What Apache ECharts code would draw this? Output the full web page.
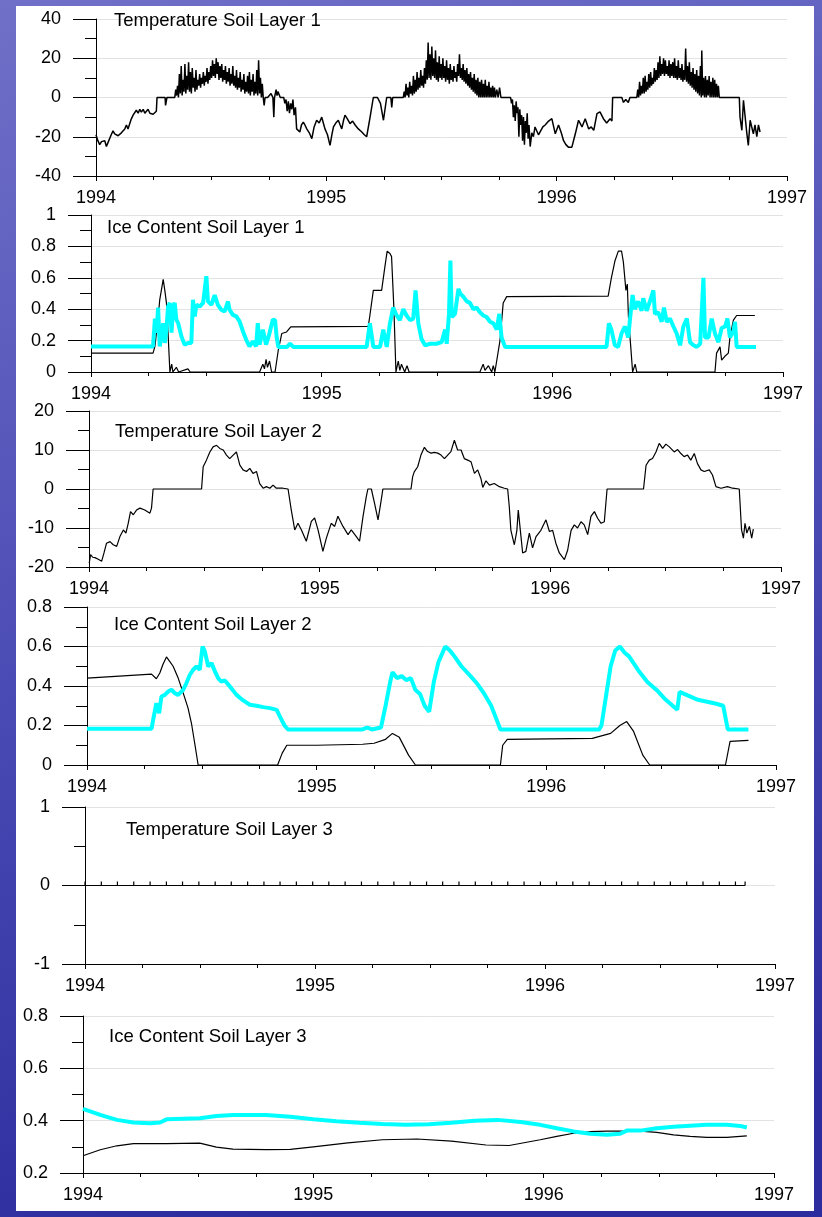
<!DOCTYPE html>
<html><head><meta charset="utf-8">
<script src="https://cdn.jsdelivr.net/npm/echarts@6/dist/echarts.min.js"></script>
<style>html,body{margin:0;padding:0;width:822px;height:1217px;overflow:hidden;background:#4a4ab4}#c{width:822px;height:1217px}</style>
</head><body><div id="c"></div>
<script>
// ---------- DATA ----------
const panelTitles = ['Temperature Soil Layer 1','Ice Content Soil Layer 1','Temperature Soil Layer 2','Ice Content Soil Layer 2','Temperature Soil Layer 3','Ice Content Soil Layer 3'];
const yearTicks = [1994, 1995, 1996, 1997];

const tempL1 = [
[1994.000,-19],[1994.008,-22],[1994.016,-24],[1994.024,-22.5],[1994.030,-23.5],[1994.038,-22],[1994.045,-25],[1994.052,-23],[1994.059,-22],[1994.066,-19],[1994.074,-17],[1994.081,-18.5],[1994.088,-18],[1994.096,-19.5],[1994.103,-20],[1994.110,-18],[1994.117,-18],[1994.125,-16],[1994.132,-14],[1994.139,-16],[1994.146,-15],[1994.153,-11],[1994.161,-9],[1994.168,-8],[1994.175,-6.5],[1994.183,-8],[1994.190,-6],[1994.197,-7.5],[1994.205,-6],[1994.212,-8],[1994.219,-7],[1994.226,-6],[1994.234,-8],[1994.241,-7],[1994.248,-8.5],[1994.255,-9.5],[1994.262,-7],[1994.265,0],[1994.300,0],[1994.302,-4],[1994.306,-4],[1994.308,0],
[1994.342,0],[1994.346,4],[1994.350,1],[1994.354,6],[1994.358,0],[1994.362,12],[1994.366,2],[1994.370,16],[1994.374,1],[1994.378,9],[1994.382,3],[1994.386,17],[1994.390,2],[1994.394,11],[1994.398,4],[1994.402,18],[1994.406,3],[1994.410,13],[1994.414,2],[1994.418,15],[1994.422,5],[1994.426,10],[1994.430,3],[1994.434,14],[1994.438,4],[1994.442,9],[1994.446,6],[1994.450,12],[1994.454,5],[1994.458,10],[1994.462,7],[1994.466,13],[1994.470,6],[1994.474,11],[1994.478,8],[1994.482,15],[1994.486,7],[1994.490,13],[1994.494,9],[1994.498,16],[1994.502,10],[1994.506,19],[1994.510,11],[1994.514,17],[1994.518,10],[1994.522,20],[1994.526,12],[1994.530,18],[1994.534,9],[1994.538,16],[1994.542,10],[1994.546,17],[1994.550,8],[1994.554,14],[1994.558,9],[1994.562,16],[1994.566,7],[1994.570,13],[1994.574,8],[1994.578,15],[1994.582,6],[1994.586,12],[1994.590,7],[1994.594,16],[1994.598,6],[1994.602,11],[1994.606,5],[1994.610,14],[1994.614,4],[1994.618,10],[1994.622,5],[1994.626,13],[1994.630,3],[1994.634,9],[1994.638,4],[1994.642,12],[1994.646,2],[1994.650,8],[1994.654,3],[1994.658,11],[1994.662,2],[1994.666,13],[1994.670,1],[1994.674,9],[1994.678,3],[1994.682,12],[1994.686,1],[1994.690,8],[1994.694,2],[1994.698,14],[1994.702,1],[1994.706,19],[1994.710,2],[1994.714,10],[1994.718,0],[1994.722,7],[1994.726,0],[1994.730,-4],[1994.734,0],
[1994.745,0],[1994.760,2],[1994.768,0],[1994.772,-10],[1994.775,0],[1994.782,4],[1994.786,1],[1994.790,3],[1994.800,0],[1994.815,0],[1994.820,-3],[1994.825,-1],[1994.830,-7],[1994.835,-2],[1994.840,-8],[1994.845,-3],[1994.850,-6],[1994.855,-1],[1994.860,-9],[1994.866,-5],[1994.871,-16],[1994.878,-15],[1994.885,-17.6],[1994.892,-14],[1994.900,-12.5],[1994.907,-14],[1994.915,-16],[1994.926,-18],[1994.937,-21],[1994.947,-15],[1994.958,-11.6],[1994.969,-13],[1994.980,-10],[1994.987,-13],[1994.994,-16],[1995.005,-19],[1995.016,-24.4],[1995.024,-19],[1995.031,-15],[1995.041,-13],[1995.052,-11.6],[1995.060,-14],[1995.067,-16],[1995.074,-12],[1995.081,-9],[1995.092,-11],[1995.103,-13.3],[1995.114,-12],[1995.125,-14],[1995.132,-15],[1995.139,-16],[1995.147,-16.5],[1995.154,-17.6],[1995.165,-19],[1995.175,-20],[1995.190,-10],[1995.204,0],[1995.222,0],[1995.235,-3],[1995.248,-11.6],[1995.262,0],[1995.280,0],[1995.284,-5],[1995.288,0],
[1995.334,0],[1995.338,3],[1995.342,0],[1995.346,7],[1995.350,1],[1995.354,5],[1995.358,0],[1995.362,8],[1995.366,2],[1995.370,6],[1995.374,1],[1995.378,11],[1995.382,2],[1995.386,9],[1995.390,3],[1995.394,13],[1995.398,4],[1995.402,10],[1995.406,5],[1995.410,14],[1995.414,6],[1995.418,11],[1995.422,5],[1995.426,15],[1995.430,7],[1995.434,19],[1995.438,9],[1995.442,28],[1995.446,10],[1995.450,22],[1995.454,9],[1995.458,26],[1995.462,11],[1995.466,20],[1995.470,10],[1995.474,24],[1995.478,9],[1995.482,18],[1995.486,8],[1995.490,21],[1995.494,10],[1995.498,17],[1995.502,9],[1995.506,20],[1995.510,10],[1995.514,16],[1995.518,8],[1995.522,19],[1995.526,9],[1995.530,15],[1995.534,7],[1995.538,17],[1995.542,9],[1995.546,14],[1995.550,8],[1995.554,16],[1995.558,10],[1995.562,13],[1995.566,8],[1995.570,17],[1995.574,11],[1995.578,22],[1995.582,10],[1995.586,15],[1995.590,9],[1995.594,17],[1995.598,8],[1995.602,14],[1995.606,7],[1995.610,15],[1995.614,6],[1995.618,12],[1995.622,5],[1995.626,13],[1995.630,4],[1995.634,10],[1995.638,3],[1995.642,12],[1995.646,2],[1995.650,9],[1995.654,1],[1995.658,10],[1995.662,0],[1995.666,8],[1995.670,0],[1995.674,9],[1995.678,0],[1995.682,7],[1995.686,0],[1995.690,9],[1995.694,0],[1995.698,6],[1995.702,0],[1995.706,8],[1995.710,0],[1995.714,5],[1995.718,0],[1995.722,6],[1995.726,0],[1995.730,5],[1995.734,0],[1995.740,4],[1995.746,0],[1995.752,5],[1995.758,0],[1995.768,0],
[1995.800,0],[1995.804,-3],[1995.808,-1],[1995.812,-10],[1995.816,-4],[1995.820,-12],[1995.824,-2],[1995.828,-8],[1995.832,-5],[1995.836,-20],[1995.840,-6],[1995.844,-14],[1995.848,-9],[1995.852,-22],[1995.856,-10],[1995.860,-24],[1995.864,-12],[1995.868,-18],[1995.872,-8],[1995.876,-21],[1995.880,-14],[1995.885,-25],[1995.892,-18],[1995.899,-20],[1995.906,-15],[1995.914,-15],[1995.921,-19],[1995.928,-19],[1995.940,-15],[1995.950,-14],[1995.965,-12],[1995.979,-10.8],[1995.994,-18.5],[1996.008,-14],[1996.020,-18],[1996.030,-22],[1996.040,-24],[1996.051,-25.3],[1996.066,-25.3],[1996.081,-18.5],[1996.095,-11.6],[1996.110,-15],[1996.124,-10.8],[1996.139,-16],[1996.150,-15],[1996.161,-16.7],[1996.175,-8.2],[1996.188,-7.3],[1996.203,-10.8],[1996.217,-13],[1996.232,-10.8],[1996.240,-12],[1996.243,0],[1996.283,0],[1996.290,-2.5],[1996.300,-1],[1996.311,-2.5],[1996.318,0],
[1996.348,0],[1996.352,4],[1996.356,0],[1996.360,8],[1996.364,1],[1996.368,6],[1996.372,2],[1996.376,10],[1996.380,2],[1996.384,11],[1996.388,3],[1996.392,8],[1996.396,4],[1996.400,12],[1996.404,5],[1996.408,13],[1996.412,6],[1996.416,10],[1996.420,7],[1996.424,15],[1996.428,8],[1996.432,14],[1996.436,9],[1996.440,18],[1996.444,10],[1996.448,21],[1996.452,11],[1996.456,17],[1996.460,12],[1996.464,20],[1996.468,11],[1996.472,19],[1996.476,12],[1996.480,16],[1996.484,11],[1996.488,19],[1996.492,10],[1996.496,17],[1996.500,11],[1996.504,18],[1996.508,10],[1996.512,20],[1996.516,10],[1996.520,16],[1996.524,9],[1996.528,19],[1996.532,10],[1996.536,15],[1996.540,9],[1996.544,17],[1996.548,8],[1996.552,14],[1996.556,9],[1996.560,25],[1996.564,8],[1996.568,16],[1996.572,7],[1996.576,18],[1996.580,6],[1996.584,13],[1996.588,5],[1996.592,15],[1996.596,4],[1996.600,12],[1996.604,3],[1996.608,14],[1996.612,2],[1996.616,11],[1996.620,1],[1996.624,16],[1996.628,0],[1996.630,24],[1996.634,1],[1996.638,10],[1996.642,0],[1996.646,11],[1996.650,0],[1996.654,9],[1996.658,1],[1996.662,11],[1996.666,0],[1996.670,8],[1996.674,0],[1996.678,10],[1996.682,0],[1996.686,9],[1996.690,0],[1996.694,7],[1996.698,0],[1996.702,6],[1996.706,0],[1996.710,0],
[1996.793,0],[1996.796,-10],[1996.804,-16.7],[1996.811,-1.4],[1996.818,-1],[1996.825,-17.6],[1996.832,-24.4],[1996.840,-11.6],[1996.847,-12.5],[1996.854,-18.5],[1996.861,-14],[1996.869,-20],[1996.876,-14],[1996.883,-17.6]
];

const iceL1Black = [
[1994.000,0.12],[1994.269,0.12],[1994.277,0.163],[1994.290,0.33],[1994.298,0.46],[1994.313,0.59],[1994.320,0.52],[1994.327,0.44],[1994.334,0.25],[1994.342,0],[1994.350,0.05],[1994.355,0],[1994.370,0.03],[1994.380,0],[1994.420,0.02],[1994.430,0],[1994.731,0],[1994.745,0.05],[1994.752,0.02],[1994.759,0.08],[1994.765,0.03],[1994.774,0.07],[1994.783,0],[1994.798,0],[1994.812,0.14],[1994.827,0.245],[1994.848,0.255],[1994.866,0.287],[1995.202,0.29],[1995.209,0.36],[1995.224,0.52],[1995.260,0.52],[1995.274,0.67],[1995.284,0.77],[1995.296,0.755],[1995.303,0.735],[1995.313,0.41],[1995.322,0],[1995.332,0.07],[1995.339,0.01],[1995.346,0.05],[1995.360,0],[1995.370,0.04],[1995.379,0],[1995.686,0],[1995.700,0.05],[1995.708,0.01],[1995.723,0.04],[1995.737,0],[1995.744,0.04],[1995.751,0],[1995.773,0.2],[1995.787,0.44],[1995.802,0.48],[1996.242,0.483],[1996.256,0.6],[1996.271,0.705],[1996.286,0.77],[1996.300,0.77],[1996.308,0.7],[1996.319,0.52],[1996.325,0.56],[1996.330,0.35],[1996.340,0.16],[1996.348,0],[1996.359,0.05],[1996.366,0],[1996.705,0],[1996.712,0.12],[1996.727,0.16],[1996.734,0.075],[1996.748,0.1],[1996.763,0.12],[1996.770,0.22],[1996.785,0.33],[1996.799,0.36],[1996.878,0.36]
];
const iceL1Cyan = [
[1994.000,0.163],[1994.269,0.163],[1994.277,0.34],[1994.284,0.25],[1994.291,0.41],[1994.298,0.163],[1994.305,0.227],[1994.313,0.311],[1994.320,0.185],[1994.327,0.27],[1994.334,0.417],[1994.342,0.44],[1994.349,0.25],[1994.356,0.417],[1994.363,0.44],[1994.370,0.333],[1994.378,0.311],[1994.392,0.227],[1994.406,0.174],[1994.421,0.185],[1994.435,0.185],[1994.442,0.46],[1994.450,0.354],[1994.457,0.428],[1994.471,0.417],[1994.486,0.44],[1994.500,0.61],[1994.507,0.45],[1994.522,0.428],[1994.536,0.49],[1994.550,0.428],[1994.565,0.396],[1994.579,0.385],[1994.594,0.449],[1994.601,0.396],[1994.615,0.364],[1994.630,0.354],[1994.644,0.322],[1994.659,0.258],[1994.673,0.205],[1994.687,0.163],[1994.702,0.195],[1994.716,0.163],[1994.723,0.311],[1994.731,0.174],[1994.745,0.269],[1994.759,0.174],[1994.774,0.248],[1994.788,0.333],[1994.798,0.33],[1994.805,0.22],[1994.812,0.16],[1994.850,0.16],[1994.863,0.18],[1994.877,0.16],[1995.195,0.16],[1995.209,0.31],[1995.224,0.16],[1995.253,0.16],[1995.267,0.27],[1995.282,0.16],[1995.296,0.31],[1995.310,0.41],[1995.325,0.36],[1995.339,0.33],[1995.354,0.40],[1995.368,0.36],[1995.383,0.33],[1995.397,0.34],[1995.407,0.52],[1995.419,0.31],[1995.433,0.21],[1995.448,0.17],[1995.470,0.18],[1995.498,0.18],[1995.520,0.19],[1995.535,0.27],[1995.542,0.18],[1995.552,0.37],[1995.558,0.71],[1995.564,0.35],[1995.578,0.37],[1995.593,0.53],[1995.600,0.50],[1995.614,0.48],[1995.629,0.45],[1995.643,0.44],[1995.658,0.40],[1995.672,0.41],[1995.686,0.38],[1995.701,0.36],[1995.715,0.35],[1995.730,0.32],[1995.744,0.31],[1995.759,0.27],[1995.770,0.37],[1995.780,0.22],[1995.795,0.16],[1996.235,0.16],[1996.245,0.31],[1996.256,0.27],[1996.271,0.17],[1996.285,0.16],[1996.300,0.245],[1996.314,0.29],[1996.329,0.22],[1996.339,0.37],[1996.348,0.49],[1996.358,0.40],[1996.372,0.45],[1996.387,0.39],[1996.394,0.47],[1996.409,0.39],[1996.423,0.45],[1996.438,0.52],[1996.445,0.37],[1996.459,0.38],[1996.474,0.32],[1996.484,0.41],[1996.496,0.32],[1996.510,0.34],[1996.525,0.29],[1996.539,0.245],[1996.554,0.17],[1996.568,0.29],[1996.583,0.34],[1996.597,0.19],[1996.612,0.17],[1996.626,0.16],[1996.641,0.18],[1996.655,0.60],[1996.662,0.22],[1996.677,0.22],[1996.691,0.34],[1996.705,0.245],[1996.720,0.19],[1996.734,0.28],[1996.749,0.29],[1996.759,0.34],[1996.770,0.22],[1996.785,0.26],[1996.792,0.32],[1996.799,0.16],[1996.883,0.16]
];

const tempL2 = [
[1994.001,-19],[1994.007,-16.8],[1994.016,-17.5],[1994.026,-17.6],[1994.040,-18],[1994.055,-18.5],[1994.065,-16.4],[1994.076,-13.9],[1994.091,-13.5],[1994.105,-14.3],[1994.120,-14.7],[1994.134,-12.2],[1994.149,-10.5],[1994.160,-11.3],[1994.170,-8.8],[1994.180,-5.8],[1994.192,-6.6],[1994.206,-5.4],[1994.221,-4.9],[1994.242,-5.4],[1994.264,-6.2],[1994.271,-4.9],[1994.278,0],[1994.488,0],[1994.495,5.7],[1994.509,7.4],[1994.524,9.5],[1994.538,10.8],[1994.553,11.2],[1994.567,10.4],[1994.582,10],[1994.596,8.7],[1994.610,7.8],[1994.625,8.7],[1994.639,9.5],[1994.654,6.1],[1994.668,4.9],[1994.683,4.5],[1994.697,5.3],[1994.711,4],[1994.726,4.5],[1994.740,1.4],[1994.755,0.2],[1994.769,0.6],[1994.784,0.2],[1994.798,1],[1994.812,0.2],[1994.841,0.2],[1994.863,0],[1994.877,-5.4],[1994.892,-10.5],[1994.906,-8.8],[1994.921,-10.5],[1994.942,-13.4],[1994.964,-8.3],[1994.978,-7.4],[1994.993,-10.5],[1995.014,-16],[1995.029,-12.6],[1995.050,-8.8],[1995.065,-9.6],[1995.079,-7],[1995.101,-9.6],[1995.123,-11.7],[1995.137,-10.5],[1995.159,-12.2],[1995.173,-13.4],[1995.188,-7],[1995.202,-2],[1995.209,0],[1995.224,0],[1995.238,-3.7],[1995.253,-7.9],[1995.267,-2.8],[1995.274,0],[1995.396,0],[1995.403,3.1],[1995.410,4.4],[1995.425,5.7],[1995.439,8.7],[1995.454,10.7],[1995.468,9.6],[1995.483,9.2],[1995.497,9.4],[1995.512,9.2],[1995.526,8.7],[1995.541,7.8],[1995.555,8.7],[1995.569,9.6],[1995.584,12.5],[1995.598,10],[1995.613,10],[1995.627,7.8],[1995.642,7.4],[1995.656,7],[1995.671,4],[1995.685,4.9],[1995.699,2.7],[1995.707,0.4],[1995.721,2.1],[1995.736,1],[1995.757,1.4],[1995.779,0.6],[1995.801,0.2],[1995.815,0],[1995.822,-4.5],[1995.829,-10.6],[1995.837,-11],[1995.844,-14.3],[1995.855,-10.6],[1995.861,-5.4],[1995.870,-10.6],[1995.880,-16.4],[1995.894,-16],[1995.909,-11.3],[1995.923,-15.1],[1995.938,-12.2],[1995.959,-10.6],[1995.981,-7.9],[1995.996,-10.9],[1996.010,-10.6],[1996.024,-13.9],[1996.039,-16.4],[1996.061,-18.1],[1996.075,-15.7],[1996.090,-10.6],[1996.104,-9.2],[1996.118,-10],[1996.133,-8.4],[1996.147,-9.2],[1996.162,-11.7],[1996.176,-7],[1996.191,-5.8],[1996.205,-7.5],[1996.220,-8.8],[1996.234,-8.4],[1996.246,0],[1996.404,0],[1996.415,6.1],[1996.429,7.4],[1996.443,7.8],[1996.458,9.5],[1996.472,11.7],[1996.487,10.4],[1996.501,11.5],[1996.516,10.8],[1996.537,9.5],[1996.552,10.1],[1996.566,9.1],[1996.580,8.3],[1996.595,8.7],[1996.609,7.4],[1996.624,9.1],[1996.638,6.5],[1996.653,4.9],[1996.667,4.5],[1996.689,4.9],[1996.703,3.6],[1996.718,0.6],[1996.740,0.2],[1996.768,0.6],[1996.790,0.2],[1996.819,0],[1996.829,-10.5],[1996.837,-12.6],[1996.844,-8.8],[1996.852,-11.3],[1996.863,-9.6],[1996.873,-12.6],[1996.880,-10.3]
];

const iceL2Black = [
[1994.000,0.44],[1994.281,0.46],[1994.302,0.437],[1994.317,0.466],[1994.331,0.51],[1994.346,0.547],[1994.360,0.525],[1994.375,0.5],[1994.397,0.44],[1994.419,0.364],[1994.440,0.288],[1994.455,0.21],[1994.469,0.11],[1994.484,0],[1994.830,0],[1994.850,0.06],[1994.870,0.1],[1995.000,0.1],[1995.200,0.105],[1995.250,0.11],[1995.300,0.13],[1995.330,0.16],[1995.360,0.14],[1995.400,0.05],[1995.430,0],[1995.800,0],[1995.810,0.1],[1995.830,0.13],[1996.200,0.135],[1996.280,0.16],[1996.320,0.2],[1996.350,0.22],[1996.380,0.17],[1996.420,0.05],[1996.450,0],[1996.780,0],[1996.800,0.12],[1996.880,0.125]
];
const iceL2Cyan = [
[1994.000,0.183],[1994.281,0.183],[1994.288,0.228],[1994.302,0.313],[1994.314,0.262],[1994.324,0.347],[1994.339,0.355],[1994.353,0.372],[1994.368,0.381],[1994.382,0.364],[1994.397,0.355],[1994.419,0.381],[1994.433,0.415],[1994.448,0.457],[1994.462,0.482],[1994.477,0.499],[1994.491,0.482],[1994.503,0.6],[1994.513,0.575],[1994.528,0.499],[1994.542,0.516],[1994.557,0.474],[1994.571,0.44],[1994.584,0.423],[1994.600,0.428],[1994.622,0.398],[1994.651,0.355],[1994.680,0.327],[1994.709,0.305],[1994.738,0.3],[1994.767,0.293],[1994.797,0.288],[1994.826,0.279],[1994.840,0.245],[1994.860,0.2],[1994.875,0.18],[1995.200,0.18],[1995.220,0.19],[1995.240,0.18],[1995.280,0.19],[1995.300,0.3],[1995.320,0.42],[1995.330,0.47],[1995.350,0.44],[1995.370,0.45],[1995.390,0.43],[1995.410,0.44],[1995.430,0.38],[1995.450,0.36],[1995.470,0.3],[1995.490,0.27],[1995.510,0.42],[1995.530,0.52],[1995.560,0.6],[1995.580,0.58],[1995.600,0.55],[1995.630,0.5],[1995.670,0.45],[1995.700,0.41],[1995.730,0.36],[1995.760,0.3],[1995.780,0.24],[1995.800,0.18],[1996.230,0.18],[1996.240,0.2],[1996.260,0.35],[1996.280,0.5],[1996.300,0.58],[1996.320,0.6],[1996.340,0.57],[1996.360,0.55],[1996.400,0.48],[1996.440,0.42],[1996.480,0.38],[1996.520,0.33],[1996.550,0.3],[1996.570,0.28],[1996.580,0.37],[1996.620,0.35],[1996.660,0.33],[1996.700,0.32],[1996.740,0.31],[1996.770,0.3],[1996.790,0.18],[1996.880,0.18]
];

const tempL3Times = [1994.000,1994.071,1994.141,1994.212,1994.283,1994.354,1994.424,1994.495,1994.566,1994.636,1994.707,1994.778,1994.848,1994.919,1994.990,1995.060,1995.131,1995.202,1995.273,1995.343,1995.414,1995.485,1995.555,1995.626,1995.697,1995.768,1995.838,1995.909,1995.980,1996.050,1996.121,1996.192,1996.263,1996.333,1996.404,1996.475,1996.545,1996.616,1996.687,1996.758,1996.828,1996.870];
const tempL3Values = [0,0,0,0,0,0,0,0,0,0,0,0,0,0,0,0,0,0,0,0,0,0,0,0,0,0,0,0,0,0,0,0,0,0,0,0,0,0,0,0,0,0];

const iceL3Black = [
[1994.000,0.266],[1994.075,0.289],[1994.147,0.304],[1994.219,0.312],[1994.363,0.312],[1994.507,0.314],[1994.579,0.299],[1994.651,0.291],[1994.795,0.289],[1994.900,0.29],[1995.000,0.30],[1995.150,0.315],[1995.300,0.327],[1995.450,0.33],[1995.600,0.322],[1995.750,0.307],[1995.850,0.305],[1995.985,0.327],[1996.057,0.34],[1996.130,0.352],[1996.202,0.358],[1996.274,0.36],[1996.332,0.36],[1996.419,0.36],[1996.491,0.355],[1996.564,0.346],[1996.636,0.34],[1996.708,0.336],[1996.795,0.336],[1996.853,0.34],[1996.882,0.342]
];
const iceL3Cyan = [
[1994.000,0.445],[1994.075,0.422],[1994.147,0.403],[1994.219,0.393],[1994.291,0.39],[1994.334,0.393],[1994.363,0.405],[1994.435,0.407],[1994.507,0.409],[1994.579,0.418],[1994.651,0.422],[1994.723,0.422],[1994.795,0.422],[1994.900,0.415],[1995.000,0.405],[1995.100,0.398],[1995.200,0.392],[1995.300,0.387],[1995.400,0.384],[1995.500,0.386],[1995.600,0.392],[1995.700,0.400],[1995.800,0.403],[1995.900,0.395],[1995.985,0.384],[1996.057,0.371],[1996.130,0.359],[1996.202,0.35],[1996.274,0.346],[1996.332,0.35],[1996.361,0.362],[1996.419,0.362],[1996.491,0.371],[1996.564,0.377],[1996.636,0.381],[1996.708,0.384],[1996.795,0.384],[1996.853,0.38],[1996.882,0.374]
];

// ---------- LAYOUT ----------
const FONT = "'Liberation Sans', Arial, sans-serif";
const panels = [
  {left:96, width:691, top:19,   height:157, min:-40, max:40, interval:20, minor:2, tx:114, ty:21,  lw:1.5},
  {left:91, width:692, top:215,  height:157, min:0,   max:1,  interval:0.2, minor:2, tx:107, ty:228, lw:1.2},
  {left:89, width:692, top:411,  height:156, min:-20, max:20, interval:10, minor:2, tx:115, ty:432, lw:1.2},
  {left:87, width:689, top:607,  height:158, min:0,   max:0.8, interval:0.2, minor:2, tx:114, ty:625, lw:1.2},
  {left:85, width:690, top:807,  height:157, min:-1,  max:1,  interval:1, minor:2, tx:126, ty:830, lw:1.2},
  {left:83, width:691, top:1016, height:157, min:0.2, max:0.8, interval:0.2, minor:2, tx:109, ty:1037, lw:1.2}
];

const grids = [], xAxes = [], yAxes = [];
panels.forEach((p, i) => {
  grids.push({left:p.left, top:p.top, width:p.width, height:p.height, containLabel:false});
  xAxes.push({
    gridIndex:i, type:'value', min:yearTicks[0], max:yearTicks[yearTicks.length-1], interval:1,
    axisLine:{show:true, onZero:false, lineStyle:{color:'#000', width:1}},
    axisTick:{show:true, length:5, lineStyle:{color:'#000', width:1}},
    minorTick:{show:true, splitNumber:4, length:4, lineStyle:{color:'#000', width:1}},
    splitLine:{show:false},
    axisLabel:{show:true, fontSize:18, fontFamily:FONT, color:'#000', margin:13, showMinLabel:true, showMaxLabel:true,
      formatter:v => String(Math.round(v))}
  });
  yAxes.push({
    gridIndex:i, type:'value', min:p.min, max:p.max, interval:p.interval,
    axisLine:{show:true, onZero:false, lineStyle:{color:'#000', width:1}},
    axisTick:{show:true, length:23, lineStyle:{color:'#000', width:1}},
    minorTick:{show:true, splitNumber:p.minor, length:11, lineStyle:{color:'#000', width:1}},
    splitLine:{show:true, lineStyle:{color:'#e2e2e2', width:1}},
    axisLabel:{show:true, fontSize:18, fontFamily:FONT, color:'#000', margin:35,
      formatter:v => String(+v.toFixed(2))}
  });
});

const black = (idx, data) => ({type:'line', xAxisIndex:idx, yAxisIndex:idx, data, showSymbol:false, symbol:'none',
  lineStyle:{color:'#000', width:panels[idx].lw}, z:3, animation:false});
const cyan = (idx, data) => ({type:'line', xAxisIndex:idx, yAxisIndex:idx, data, showSymbol:false, symbol:'none',
  lineStyle:{color:'#00ffff', width:4}, z:4, animation:false});

const series = [
  black(0, tempL1),
  black(1, iceL1Black), cyan(1, iceL1Cyan),
  black(2, tempL2),
  black(3, iceL2Black), cyan(3, iceL2Cyan),
  {type:'line', xAxisIndex:4, yAxisIndex:4, data: tempL3Times.map((t, k) => [t, tempL3Values[k]]),
   symbol:'rect', symbolSize:[1.2, 4], symbolOffset:[0, -2], showSymbol:true,
   itemStyle:{color:'#000'}, lineStyle:{color:'#000', width:1.2}, z:3, animation:false},
  black(5, iceL3Black), cyan(5, iceL3Cyan)
];

const graphic = [
  {type:'rect', z:-100, shape:{x:16, y:6, width:798, height:1205}, style:{fill:'#ffffff'}, silent:true}
];
panels.forEach((p, i) => {
  graphic.push({type:'text', z:100, x:p.tx, y:p.ty, style:{text:panelTitles[i], font:'18.5px ' + FONT, fill:'#000', verticalAlign:'middle', align:'left'}});
});

const chart = echarts.init(document.getElementById('c'), null, {renderer:'canvas'});
chart.setOption({
  animation:false,
  backgroundColor: new echarts.graphic.LinearGradient(0, 0, 0.4, 1, [
    {offset:0, color:'#7070c8'}, {offset:0.5, color:'#4d4db6'}, {offset:1, color:'#2c2c9e'}
  ]),
  grid: grids, xAxis: xAxes, yAxis: yAxes, series, graphic
});
</script></body></html>
